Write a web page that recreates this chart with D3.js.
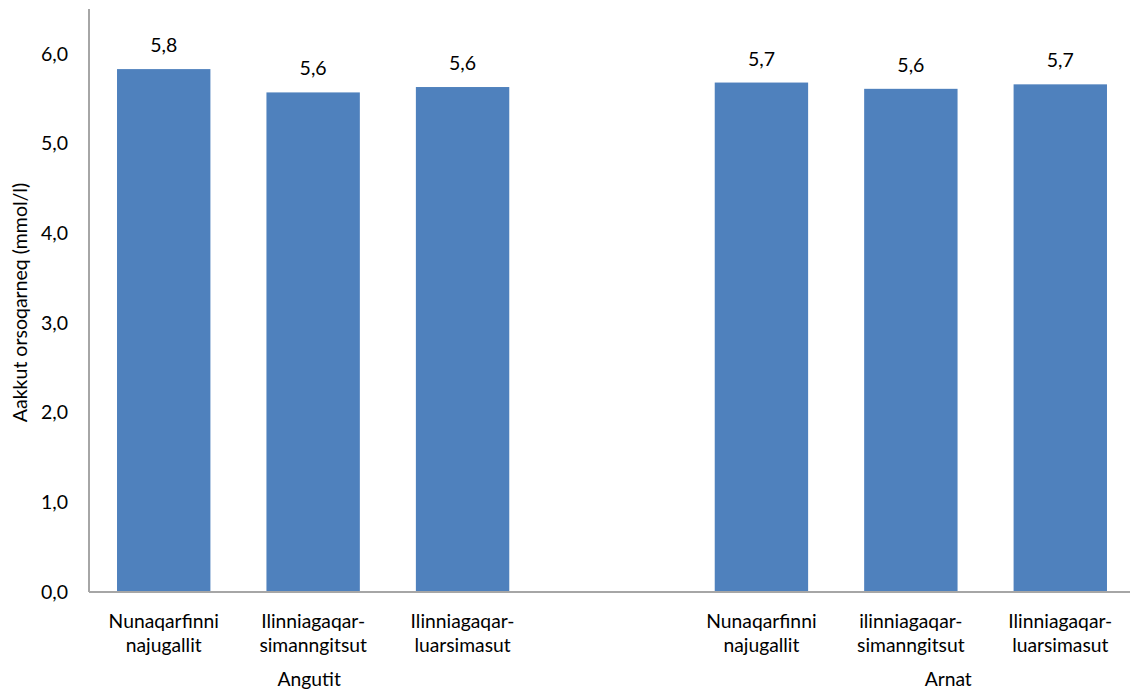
<!DOCTYPE html>
<html>
<head>
<meta charset="utf-8">
<script src="https://cdn.jsdelivr.net/npm/d3@7"></script>
<style>
  html, body { margin: 0; padding: 0; background: #fff; }
  svg { display: block; font-family: Lato, "Open Sans", sans-serif; }
</style>
</head>
<body>
<svg id="chart" width="1130" height="695"></svg>
<script>
// Data
const slots = ["a1", "a2", "a3", "gap", "b1", "b2", "b3"];
const categories = [
  ["Nunaqarfinni", "najugallit"],
  ["Ilinniagaqar-", "simanngitsut"],
  ["Ilinniagaqar-", "luarsimasut"],
  ["Nunaqarfinni", "najugallit"],
  ["ilinniagaqar-", "simanngitsut"],
  ["Ilinniagaqar-", "luarsimasut"]
];
const barSlots = ["a1", "a2", "a3", "b1", "b2", "b3"];
const values = [5.83, 5.57, 5.63, 5.68, 5.61, 5.66];
const valueLabels = ["5,8", "5,6", "5,6", "5,7", "5,6", "5,7"];
const groups = ["Angutit", "Arnat"];
const yTicks = [0, 1, 2, 3, 4, 5, 6];
const yTitle = "Aakkut orsoqarneq (mmol/l)";

const svg = d3.select("#chart");
const mLeft = 89, mRight = 1135, mTop = 9, mBottom = 592;

const x = d3.scaleBand().domain(slots).range([mLeft, mRight]).paddingInner(0.375).paddingOuter(0.1875);
const y = d3.scaleLinear().domain([0, 6.5]).range([mBottom, mTop]);
const fmt = d => d.toFixed(1).replace(".", ",");

// Bars
svg.append("g").selectAll("rect").data(values).join("rect")
  .attr("x", (d, i) => x(barSlots[i]))
  .attr("y", d => y(d))
  .attr("width", x.bandwidth())
  .attr("height", d => y(0) - y(d))
  .attr("fill", "#4f81bd");

// Value labels
svg.append("g").selectAll("text").data(values).join("text")
  .attr("x", (d, i) => x(barSlots[i]) + x.bandwidth() / 2)
  .attr("y", d => y(d) - 17)
  .attr("text-anchor", "middle")
  .attr("font-size", 19.5)
  .attr("fill", "#000")
  .text((d, i) => valueLabels[i]);

// Y axis
const yAxis = svg.append("g").attr("transform", `translate(${mLeft},0)`)
  .call(d3.axisLeft(y).tickValues(yTicks).tickFormat(fmt).tickSize(0).tickPadding(21));
yAxis.select(".domain").attr("stroke", "#a6a6a6").attr("stroke-width", 2)
  .attr("d", `M0,${mTop}V${mBottom}`);
yAxis.selectAll("text").attr("font-size", 19.5).attr("fill", "#000").attr("font-family", "Lato, sans-serif");

// X axis line
svg.append("line").attr("x1", mLeft).attr("x2", 1130).attr("y1", mBottom).attr("y2", mBottom)
  .attr("stroke", "#a6a6a6").attr("stroke-width", 2);

// Category labels
const catG = svg.append("g");
categories.forEach((lines, i) => {
  const cx = x(barSlots[i]) + x.bandwidth() / 2;
  const t = catG.append("text").attr("text-anchor", "middle").attr("font-size", 19.3).attr("fill", "#000");
  lines.forEach((ln, j) => {
    t.append("tspan").attr("x", cx).attr("y", 628 + j * 24).text(ln);
  });
});

// Group labels
const step = x.step();
const groupX = [
  x("a2") + x.bandwidth() / 2 - 4,
  x("b2") + x.bandwidth() / 2 + step * 0.25
];
svg.append("g").selectAll("text").data(groups).join("text")
  .attr("x", (d, i) => groupX[i])
  .attr("y", 686)
  .attr("text-anchor", "middle")
  .attr("font-size", 19.3)
  .attr("fill", "#000")
  .text(d => d);

// Y title
svg.append("text")
  .attr("transform", `translate(27,${(175 + 430) / 2}) rotate(-90)`)
  .attr("text-anchor", "middle")
  .attr("font-size", 19.5)
  .attr("fill", "#000")
  .text(yTitle);
</script>
</body>
</html>
